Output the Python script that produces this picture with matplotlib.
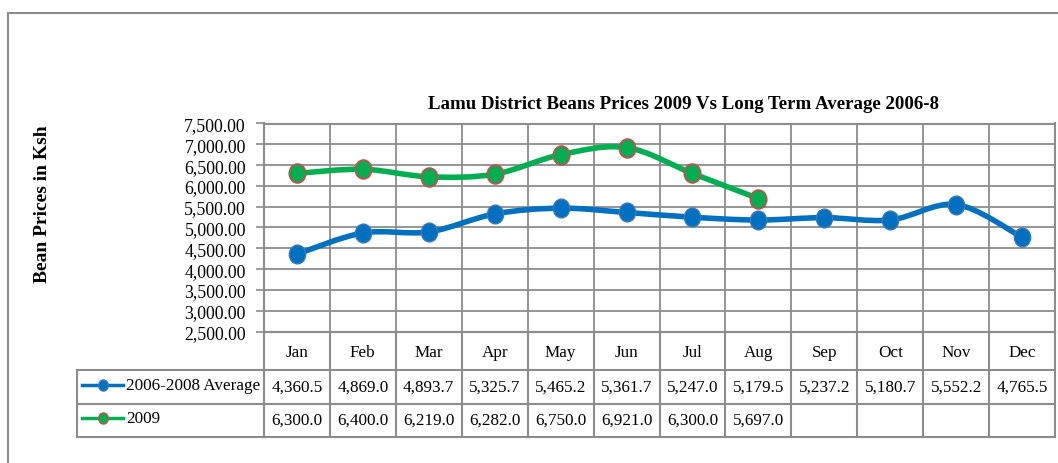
import numpy as np
import matplotlib
matplotlib.use("Agg")
import matplotlib.pyplot as plt
from matplotlib.path import Path
from matplotlib.patches import PathPatch
from matplotlib.lines import Line2D

plt.rcParams["font.family"] = ["Liberation Serif", "DejaVu Serif"]

# Daten
months = ["Jan", "Feb", "Mar", "Apr", "May", "Jun", "Jul", "Aug", "Sep", "Oct", "Nov", "Dec"]
avg_2006_2008 = [4360.5, 4869.0, 4893.7, 5325.7, 5465.2, 5361.7, 5247.0, 5179.5, 5237.2, 5180.7, 5552.2, 4765.5]
prices_2009 = [6300.0, 6400.0, 6219.0, 6282.0, 6750.0, 6921.0, 6300.0, 5697.0]
series_names = ["2006-2008 Average", "2009"]
title = "Lamu District Beans Prices 2009 Vs Long Term Average 2006-8"
y_label = "Bean Prices in Ksh"
y_ticks = np.arange(2500, 7501, 500)

W, H = 1058, 464
blue = "#0070C0"
blue_edge = "#3a78bd"
green = "#00B050"
red_edge = "#C0504D"
grid_c = "#8c8c8c"

# leicht hochgestellte Ellipse als Marker
circ = Path.unit_circle()
ellipse = Path(circ.vertices * np.array([1.0, 1.15]), circ.codes)


def fx(px):
    return px / W


def fy(py):
    return 1 - py / H


def smooth_path(x, y):
    # Bezier-Glaettung wie in Excel (Catmull-Rom)
    pts = np.column_stack([x, y]).astype(float)
    n = len(pts)
    verts = [pts[0]]
    codes = [Path.MOVETO]
    for i in range(n - 1):
        p0 = pts[i - 1] if i > 0 else pts[i]
        p1 = pts[i]
        p2 = pts[i + 1]
        p3 = pts[i + 2] if i + 2 < n else pts[i + 1]
        c1 = p1 + (p2 - p0) / 6
        c2 = p2 - (p3 - p1) / 6
        verts += [c1, c2, p2]
        codes += [Path.CURVE4] * 3
    return Path(verts, codes)


fig = plt.figure(figsize=(W / 100, H / 100), dpi=100)

# Aeusserer Rahmen
fig.add_artist(Line2D([fx(8), fx(8)], [fy(14), fy(470)], color=grid_c, lw=1.5))
fig.add_artist(Line2D([fx(8), fx(1060)], [fy(14), fy(14)], color=grid_c, lw=1.5))

left, right, top, bottom = 264, 1055, 124.5, 332.5
ax = fig.add_axes([fx(left), fy(bottom), fx(right - left), (bottom - top) / H])
x = np.arange(1, 13)
ax.set_xlim(0.5, 12.5)
ax.set_ylim(2500, 7500)
ax.set_yticks(y_ticks)
ax.set_yticklabels([f"{v:,.2f}" for v in y_ticks], fontsize=12.8)
ax.set_xticks(np.arange(0.5, 12.6, 1))
ax.set_xticklabels([])
ax.tick_params(axis="x", length=0)
ax.tick_params(axis="y", length=6, width=1.2, color=grid_c, pad=7)
ax.grid(True, color=grid_c, lw=1.3)
ax.set_axisbelow(True)
for s in ax.spines.values():
    s.set_color(grid_c)
    s.set_linewidth(1.5)

ax.add_patch(PathPatch(smooth_path(x, avg_2006_2008), fill=False, color=blue, lw=4, capstyle="round", zorder=3))
ax.plot(x, avg_2006_2008, ls="none", marker=ellipse, ms=13.5, mfc=blue, mec=blue_edge, mew=1, zorder=4)
x9 = x[:len(prices_2009)]
ax.add_patch(PathPatch(smooth_path(x9, prices_2009), fill=False, color=green, lw=4, capstyle="round", zorder=3))
ax.plot(x9, prices_2009, ls="none", marker=ellipse, ms=13.5, mfc=green, mec=red_edge, mew=1.3, zorder=4)

fig.text(fx(683), fy(105), title, fontsize=13.6, fontweight="bold", ha="center", va="center")
fig.text(fx(43), fy(204), y_label, fontsize=14, fontweight="bold", rotation=90, ha="center", va="center")

# Datentabelle
col_w = (right - left) / 12
leg_left = 77
y_rows = [332.5, 371, 404.5, 437.5]
for i in range(13):
    xp = left + i * col_w
    fig.add_artist(Line2D([fx(xp), fx(xp)], [fy(y_rows[0]), fy(y_rows[3])], color=grid_c, lw=1.5))
fig.add_artist(Line2D([fx(leg_left), fx(leg_left)], [fy(y_rows[1]), fy(y_rows[3])], color=grid_c, lw=1.5))
for k, yp in enumerate(y_rows):
    x0 = left if k == 0 else leg_left
    fig.add_artist(Line2D([fx(x0), fx(right)], [fy(yp), fy(yp)], color=grid_c, lw=1.5))

for i, m in enumerate(months):
    fig.text(fx(left + (i + 0.5) * col_w), fy((y_rows[0] + y_rows[1]) / 2 + 1), m, fontsize=12.3, ha="center", va="center")

rows = [avg_2006_2008, prices_2009]
styles = [(blue, blue, blue_edge), (green, green, red_edge)]
for r, vals in enumerate(rows):
    yc = (y_rows[r + 1] + y_rows[r + 2]) / 2
    for i, v in enumerate(vals):
        fig.text(fx(left + (i + 0.5) * col_w), fy(yc), f"{v:,.1f}", fontsize=12.3, ha="center", va="center")
    lc, fc, ec = styles[r]
    fig.add_artist(Line2D([fx(82), fx(123)], [fy(yc - 2), fy(yc - 2)], color=lc, lw=2.5))
    fig.add_artist(Line2D([fx(102.5)], [fy(yc - 2)], ls="none", marker=ellipse, ms=8, mfc=fc, mec=ec, mew=1))
    fig.text(fx(126), fy(yc - 2), series_names[r], fontsize=12.3, ha="left", va="center")

fig.savefig("out.png", dpi=100)
